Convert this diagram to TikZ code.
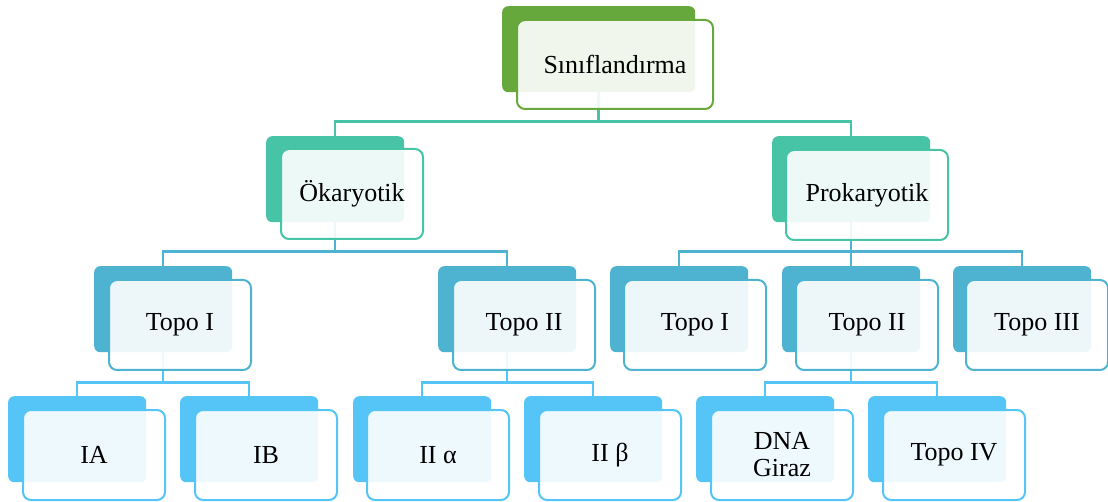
\documentclass[tikz,border=0pt]{standalone}
\usepackage{fontspec}
\setmainfont{Liberation Serif}
\usetikzlibrary{backgrounds}
\definecolor{rootgreen}{HTML}{66A83B}
\definecolor{lvlteal}{HTML}{47C3A5}
\definecolor{lvlblue}{HTML}{4DB3D0}
\definecolor{lvlsky}{HTML}{55C5F7}
\begin{document}
\begin{tikzpicture}[x=1pt,y=-1pt,
  plate/.style={fill=#1, rounded corners=6pt, inner sep=0pt, anchor=north west, minimum width=138pt, minimum height=86pt},
  card/.style={draw=#1, line width=2pt, fill=white, fill opacity=0.9, text opacity=1, rounded corners=8pt, inner sep=0pt, anchor=north west, minimum width=142pt, minimum height=90pt, align=center, font=\fontsize{26}{27}\selectfont},
  link/.style={draw=#1, line width=2.5pt}]
\useasboundingbox (0,0) rectangle (1108,502);
% top
\node [plate=rootgreen, minimum width=193pt] (root-p) at (502,6) {};
\node [card=rootgreen, minimum width=196pt, minimum height=89pt] (root) at (516,19) {Sınıflandırma};
% first level
\node [plate=lvlteal] (euk-p) at (266,136) {};
\node [card=lvlteal] (euk) at (280,148) {Ökaryotik};
\node [plate=lvlteal, minimum width=158pt] (prok-p) at (772,136) {};
\node [card=lvlteal, minimum width=162pt] (prok) at (785,149) {Prokaryotik};
% second level
\node [plate=lvlblue] (eukI-p) at (94,266) {};
\node [card=lvlblue] (eukI) at (108,279) {Topo I};
\node [plate=lvlblue] (eukII-p) at (438,266) {};
\node [card=lvlblue] (eukII) at (452,279) {Topo II};
\node [plate=lvlblue] (prokI-p) at (610,266) {};
\node [card=lvlblue] (prokI) at (623,279) {Topo I};
\node [plate=lvlblue] (prokII-p) at (782,266) {};
\node [card=lvlblue] (prokII) at (795,279) {Topo II};
\node [plate=lvlblue] (prokIII-p) at (953,266) {};
\node [card=lvlblue] (prokIII) at (965,279) {Topo III};
% third level
\node [plate=lvlsky] (IA-p) at (8,396) {};
\node [card=lvlsky] (IA) at (22,409) {IA};
\node [plate=lvlsky] (IB-p) at (180,396) {};
\node [card=lvlsky] (IB) at (194,409) {IB};
\node [plate=lvlsky] (IIa-p) at (353,396) {};
\node [card=lvlsky] (IIa) at (366,409) {II α};
\node [plate=lvlsky] (IIb-p) at (524,396) {};
\node [card=lvlsky] (IIb) at (538,409) {II β};
\node [plate=lvlsky] (giraz-p) at (696,396) {};
\node [card=lvlsky] (giraz) at (710,409) {DNA\\Giraz};
\node [plate=lvlsky] (topoIV-p) at (868,396) {};
\node [card=lvlsky] (topoIV) at (882,409) {Topo IV};
% connectors
\begin{scope}[on background layer]
\draw [link=lvlteal] (root-p.south) -- ++(0,29) -| (euk-p.north);
\draw [link=lvlteal] (root-p.south) -- ++(0,29) -| (prok-p.north);
\draw [link=lvlblue] (euk-p.south) -- ++(0,29) -| (eukI-p.north);
\draw [link=lvlblue] (euk-p.south) -- ++(0,29) -| (eukII-p.north);
\draw [link=lvlblue] (prok-p.south) -- ++(0,29) -| (prokI-p.north);
\draw [link=lvlblue] (prok-p.south) -- ++(0,29) -| (prokII-p.north);
\draw [link=lvlblue] (prok-p.south) -- ++(0,29) -| (prokIII-p.north);
\draw [link=lvlsky] (eukI-p.south) -- ++(0,30) -| (IA-p.north);
\draw [link=lvlsky] (eukI-p.south) -- ++(0,30) -| (IB-p.north);
\draw [link=lvlsky] (eukII-p.south) -- ++(0,30) -| (IIa-p.north);
\draw [link=lvlsky] (eukII-p.south) -- ++(0,30) -| (IIb-p.north);
\draw [link=lvlsky] (prokII-p.south) -- ++(0,30) -| (giraz-p.north);
\draw [link=lvlsky] (prokII-p.south) -- ++(0,30) -| (topoIV-p.north);
\end{scope}
\end{tikzpicture}
\end{document}
